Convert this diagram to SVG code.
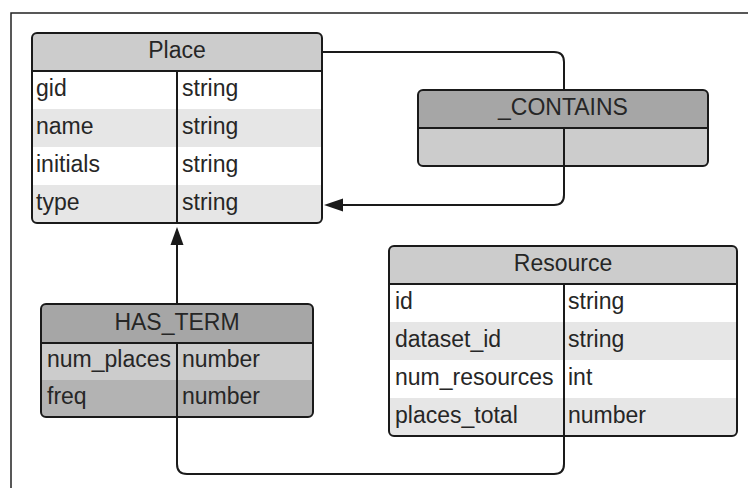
<svg xmlns="http://www.w3.org/2000/svg" width="748" height="488" viewBox="0 0 748 488">
<style>
.t{font-family:"Liberation Sans",Arial,sans-serif;font-size:23px;fill:#262626}
.h{text-anchor:middle}
.ol{fill:none;stroke:#1a1a1a;stroke-width:2}
.dv{stroke:#1a1a1a;stroke-width:2}
.c{fill:none;stroke:#1a1a1a;stroke-width:2}
.ah{fill:#1a1a1a}
</style>
<defs>
<clipPath id="cp1"><rect x="32" y="33" width="290" height="190" rx="5"/></clipPath>
<clipPath id="cp2"><rect x="418" y="90" width="290" height="76" rx="5"/></clipPath>
<clipPath id="cp3"><rect x="41" y="304" width="272" height="113" rx="5"/></clipPath>
<clipPath id="cp4"><rect x="389" y="246" width="348" height="190" rx="5"/></clipPath>
</defs>
<rect x="0" y="0" width="748" height="488" fill="#ffffff"/>
<path d="M11,488 V13 H748" fill="none" stroke="#222222" stroke-width="1.5"/>
<g id="connectors">
<path class="c" d="M322,52 H554 Q564,52 564,62 V90"/>
<path class="c" d="M564,166 V195 Q564,205 554,205 H340"/>
<polygon class="ah" points="324,205 343,198.5 343,211.5"/>
<path class="c" d="M177,304 V240"/>
<polygon class="ah" points="177,227 170.5,245 183.5,245"/>
<path class="c" d="M177,417 V464 Q177,474 187,474 H554 Q564,474 564,464 V436"/>
</g>
<g id="place">
<g clip-path="url(#cp1)">
<rect x="32" y="33" width="290" height="38" fill="#cccccc"/>
<rect x="32" y="71" width="290" height="38" fill="#ffffff"/>
<rect x="32" y="109" width="290" height="38" fill="#e6e6e6"/>
<rect x="32" y="147" width="290" height="38" fill="#ffffff"/>
<rect x="32" y="185" width="290" height="38" fill="#e6e6e6"/>
</g>
<line class="dv" x1="32" y1="71" x2="322" y2="71"/>
<line class="dv" x1="177" y1="71" x2="177" y2="223"/>
<rect class="ol" x="32" y="33" width="290" height="190" rx="5"/>
<text class="t h" x="177" y="58">Place</text>
<text class="t" x="36" y="96">gid</text><text class="t" x="182" y="96">string</text>
<text class="t" x="36" y="134">name</text><text class="t" x="182" y="134">string</text>
<text class="t" x="36" y="172">initials</text><text class="t" x="182" y="172">string</text>
<text class="t" x="36" y="210">type</text><text class="t" x="182" y="210">string</text>
</g>
<g id="contains">
<g clip-path="url(#cp2)">
<rect x="418" y="90" width="290" height="38" fill="#a6a6a6"/>
<rect x="418" y="128" width="290" height="38" fill="#cccccc"/>
</g>
<line class="dv" x1="418" y1="128" x2="708" y2="128"/>
<line class="dv" x1="564" y1="128" x2="564" y2="166"/>
<rect class="ol" x="418" y="90" width="290" height="76" rx="5"/>
<text class="t h" x="563" y="115">_CONTAINS</text>
</g>
<g id="has_term">
<g clip-path="url(#cp3)">
<rect x="41" y="304" width="272" height="39" fill="#a6a6a6"/>
<rect x="41" y="343" width="272" height="37" fill="#cccccc"/>
<rect x="41" y="380" width="272" height="37" fill="#b3b3b3"/>
</g>
<line class="dv" x1="41" y1="343" x2="313" y2="343"/>
<line class="dv" x1="177" y1="343" x2="177" y2="417"/>
<rect class="ol" x="41" y="304" width="272" height="113" rx="5"/>
<text class="t h" x="177" y="330">HAS_TERM</text>
<text class="t" x="47" y="367">num_places</text><text class="t" x="182" y="367">number</text>
<text class="t" x="47" y="404">freq</text><text class="t" x="182" y="404">number</text>
</g>
<g id="resource">
<g clip-path="url(#cp4)">
<rect x="389" y="246" width="348" height="38" fill="#cccccc"/>
<rect x="389" y="284" width="348" height="38" fill="#ffffff"/>
<rect x="389" y="322" width="348" height="38" fill="#e6e6e6"/>
<rect x="389" y="360" width="348" height="38" fill="#ffffff"/>
<rect x="389" y="398" width="348" height="38" fill="#e6e6e6"/>
</g>
<line class="dv" x1="389" y1="284" x2="737" y2="284"/>
<line class="dv" x1="564" y1="284" x2="564" y2="436"/>
<rect class="ol" x="389" y="246" width="348" height="190" rx="5"/>
<text class="t h" x="563" y="271">Resource</text>
<text class="t" x="395" y="309">id</text><text class="t" x="568" y="309">string</text>
<text class="t" x="395" y="347">dataset_id</text><text class="t" x="568" y="347">string</text>
<text class="t" x="395" y="385">num_resources</text><text class="t" x="568" y="385">int</text>
<text class="t" x="395" y="423">places_total</text><text class="t" x="568" y="423">number</text>
</g>
</svg>
